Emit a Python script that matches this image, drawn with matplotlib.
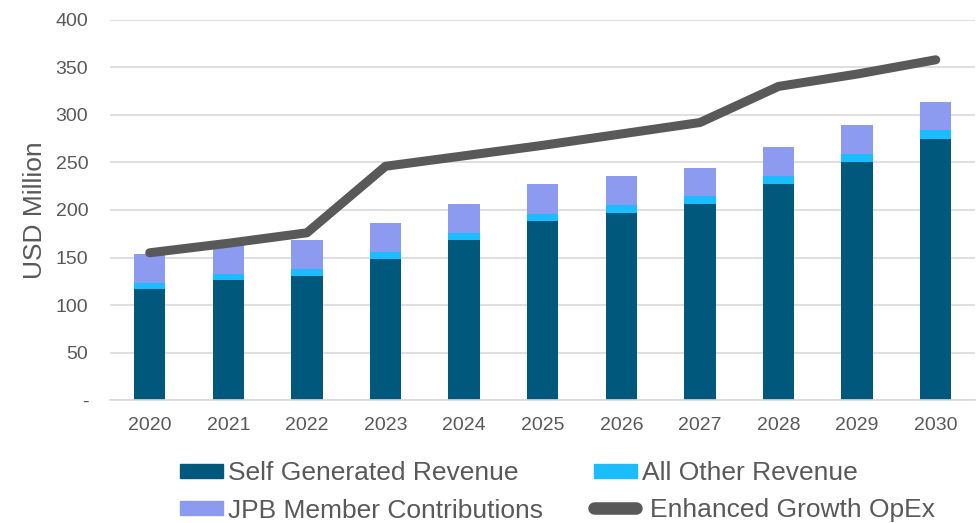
import matplotlib
matplotlib.use("Agg")
import matplotlib.pyplot as plt
from matplotlib.patches import Rectangle
from matplotlib.lines import Line2D
import numpy as np

plt.rcParams['font.family'] = ['Liberation Sans', 'DejaVu Sans']

years = ["2020", "2021", "2022", "2023", "2024", "2025", "2026", "2027", "2028", "2029", "2030"]
self_generated = [117, 126, 131, 148, 168, 188, 197, 206, 227, 250, 275]
other_revenue = [6.5, 7, 7, 8, 8, 8, 8, 8.5, 9, 9, 9]
jpb_contrib = [30, 30, 30, 30, 30, 31, 30.5, 30, 30, 30, 30]
opex = [155, 165, 176, 246, 257, 268, 280, 292, 330, 343, 358]
yticks = [0, 50, 100, 150, 200, 250, 300, 350, 400]
ytick_labels = ["-", "50", "100", "150", "200", "250", "300", "350", "400"]
series_names = ["Self Generated Revenue", "All Other Revenue", "JPB Member Contributions", "Enhanced Growth OpEx"]

c_self = "#00587C"
c_other = "#1BBDFF"
c_jpb = "#8C9AEF"
c_line = "#595959"
c_text = "#595959"

W, H = 977, 523
fig = plt.figure(figsize=(W / 100, H / 100), dpi=100)
ax = fig.add_axes([0.113, 0.235, 0.885, 0.727])

x = np.arange(len(years))
w = 0.4
s = np.array(self_generated)
o = np.array(other_revenue)
j = np.array(jpb_contrib)
ax.bar(x, s, w, color=c_self, zorder=2)
ax.bar(x, o, w, bottom=s, color=c_other, zorder=2)
ax.bar(x, j, w, bottom=s + o, color=c_jpb, zorder=2)
ax.plot(x, opex, color=c_line, lw=6.5, solid_capstyle='round', solid_joinstyle='round', zorder=3)

ax.set_xlim(-0.5, len(years) - 0.5)
ax.set_ylim(0, 400)
ax.set_yticks(yticks)
ax.set_yticklabels(ytick_labels)
ax.set_xticks(x)
ax.set_xticklabels(years)
ax.tick_params(axis='both', length=0, labelsize=14, colors=c_text)
ax.tick_params(axis='x', pad=12)
ax.tick_params(axis='y', pad=16)
ax.grid(axis='y', color="#D9D9D9", lw=1.2, zorder=0)
ax.set_axisbelow(True)
for sp in ["top", "right", "left"]:
    ax.spines[sp].set_visible(False)
ax.spines["bottom"].set_color("#D9D9D9")
ax.spines["bottom"].set_linewidth(1.2)
ax.set_ylabel("USD Million", fontsize=19, color=c_text, labelpad=6)

# manual legend (pixel positions converted to figure fractions)
def fx(px):
    return px / W

def fy(py):
    return 1 - py / H

legend_items = [
    (series_names[0], "bar", c_self, 180, 471),
    (series_names[2], "bar", c_jpb, 180, 508),
    (series_names[1], "bar", c_other, 594, 471),
    (series_names[3], "line", c_line, 594, 508),
]
for name, kind, col, px, py in legend_items:
    if kind == "bar":
        fig.patches.append(Rectangle((fx(px), fy(py + 7)), fx(43), 14 / H, color=col,
                                     transform=fig.transFigure, figure=fig))
        fig.text(fx(px + 48), fy(py), name, fontsize=19, color=c_text, va="center_baseline", ha="left")
    else:
        fig.lines.append(Line2D([fx(px), fx(px + 42)], [fy(py), fy(py)], color=col, lw=9,
                                solid_capstyle='round', transform=fig.transFigure, figure=fig))
        fig.text(fx(px + 56), fy(py), name, fontsize=19, color=c_text, va="center_baseline", ha="left")

fig.savefig("out.png", dpi=100)
